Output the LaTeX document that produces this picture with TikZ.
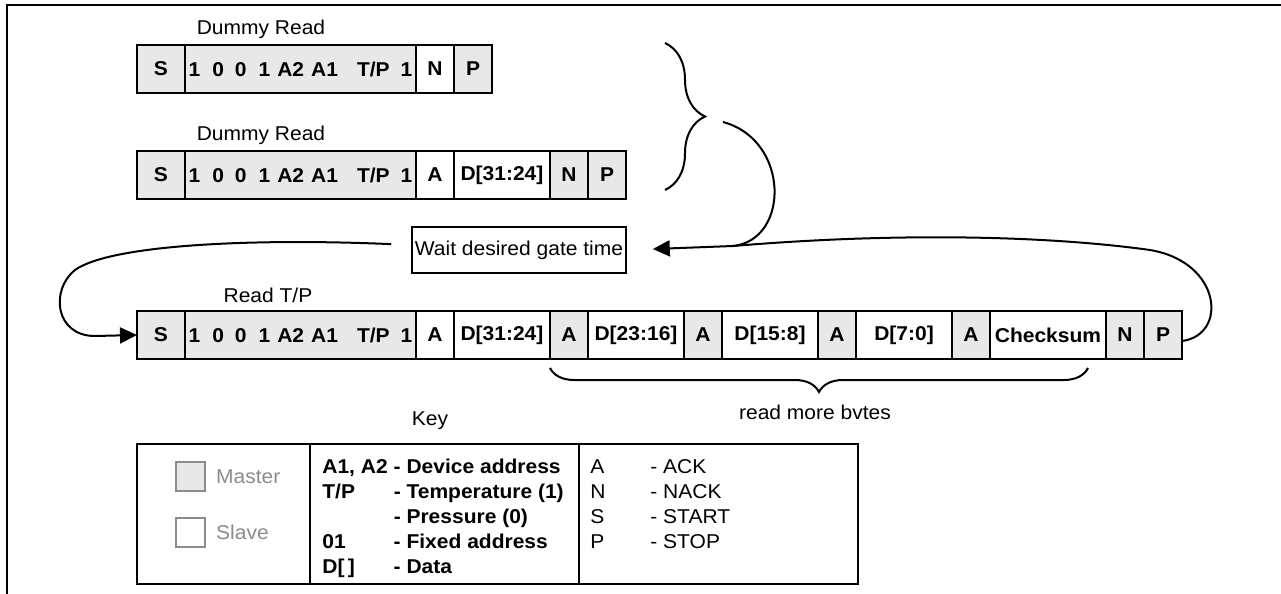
\documentclass[tikz,border=0pt]{standalone}
\usepackage{fontspec}
\setmainfont{Liberation Sans}[FakeStretch=1.05]
\usetikzlibrary{positioning,arrows.meta,decorations.pathreplacing}
\definecolor{keygray}{RGB}{140,140,140}
\definecolor{mastergray}{RGB}{232,232,232}
\newcommand{\addrbits}{1\hspace{6pt}0\hspace{5.5pt}0\hspace{6pt}1\hspace{3.5pt}A2\hspace{3.5pt}A1\hspace{9.5pt}T/P\hspace{5.5pt}1}

\begin{document}
\begin{tikzpicture}[
    x=0.5pt, y=-0.5pt,
    every node/.style={font=\fontsize{10}{12.5}\selectfont},
    cell/.style={rectangle, draw, line width=1pt, minimum height=24pt, inner sep=0pt, outer sep=0pt, anchor=west, font=\fontsize{10}{12.5}\selectfont\bfseries},
    master/.style={cell, fill=mastergray},
    slave/.style={cell, fill=white},
    sw/.style={minimum width=24pt},
    aw/.style={minimum width=115.5pt},
    kw/.style={minimum width=19pt},
    dw/.style={minimum width=48pt},
    keycell/.style={rectangle, draw, line width=1pt, minimum height=70pt, inner sep=0pt, outer sep=0pt, anchor=west},
    keysq/.style={rectangle, draw=keygray, line width=0.8pt, minimum size=14.5pt, inner sep=0pt},
    keytxt/.style={text=keygray, inner sep=0pt},
    flow/.style={line width=1pt, -{Triangle[length=8.5pt,width=8pt]}},
    brc/.style={decorate, line width=1pt, decoration={brace, amplitude=#1}},
]
\useasboundingbox (0,0) rectangle (1281,594);
\draw[line width=1pt] (7,594) -- (7,5) -- (1281,5);

\node (lbl1) at (261,29) {Dummy Read};
\node[master, sw] (s1) at (137,69) {S};
\node[master, aw, right=0pt of s1] (ad1) {\addrbits};
\node[slave, kw, right=0pt of ad1] (n1) {N};
\node[master, kw, right=0pt of n1] (p1) {P};

\node (lbl2) at (261,135) {Dummy Read};
\node[master, sw] (s2) at (137,175) {S};
\node[master, aw, right=0pt of s2] (ad2) {\addrbits};
\node[slave, kw, right=0pt of ad2] (k2) {A};
\node[slave, dw, right=0pt of k2] (d2) {D[31:24]};
\node[master, kw, right=0pt of d2] (n2) {N};
\node[master, kw, right=0pt of n2] (p2) {P};

\draw[brc=20pt] (665,43) -- (665,190);
\coordinate (dtip) at (723,122);
\coordinate (mrg) at (733,246);

\node[draw, line width=0.8pt, minimum width=107pt, minimum height=23pt, inner sep=1pt] (wait) at (519,250) {Wait desired gate time};

\node (lbl3) at (268,295) {Read T/P};
\node[master, sw] (s3) at (137,335) {S};
\node[master, aw, right=0pt of s3] (ad3) {\addrbits};
\node[slave, kw, right=0pt of ad3] (k3a) {A};
\node[slave, dw, right=0pt of k3a] (d3a) {D[31:24]};
\node[master, kw, right=0pt of d3a] (k3b) {A};
\node[slave, dw, right=0pt of k3b] (d3b) {D[23:16]};
\node[master, kw, right=0pt of d3b] (k3c) {A};
\node[slave, dw, right=0pt of k3c] (d3c) {D[15:8]};
\node[master, kw, right=0pt of d3c] (k3d) {A};
\node[slave, dw, right=0pt of k3d] (d3d) {D[7:0]};
\node[master, kw, right=0pt of d3d] (k3e) {A};
\node[slave, minimum width=58pt, right=0pt of k3e] (chk) {Checksum};
\node[master, kw, right=0pt of chk] (n3) {N};
\node[master, kw, right=0pt of n3] (p3) {P};

\draw[line width=1pt] (dtip) .. controls (790,140) and (790,240) .. (mrg);
\draw[flow, shorten >=13pt] ([yshift=-3pt]p3.east) .. controls (1228,335) and (1222,262) .. (1150,250) .. controls (1050,236) and (900,232) .. (mrg) -- (wait.east);
\draw[flow, shorten <=10pt] ([yshift=2.5pt]wait.west) .. controls (250,238) and (110,245) .. (75,270) .. controls (50,290) and (55,336) .. (95,336) -- (s3.west);

\draw[brc=12pt] (1088,368) -- (550,368);
\node (more) at (815,412) {read more bvtes};

\node (keylbl) at (430,421) {Key};
\node[keycell, minimum width=86.5pt] (kc1) at (137,514) {};
\node[keycell, minimum width=134.5pt, right=0pt of kc1] (kc2) {};
\node[keycell, minimum width=139.5pt, right=0pt of kc2] (kc3) {};

\node[keysq, fill=mastergray] (msq) at (190.5,476.5) {};
\node[keysq, fill=white] (ssq) at (190.5,532.5) {};
\node[keytxt, right=5pt of msq] (mtxt) {Master};
\node[keytxt, right=5pt of ssq] (stxt) {Slave};

\node[anchor=north west, inner sep=0pt, font=\fontsize{10}{12.5}\selectfont\bfseries] (defs) at (322,456) {\begin{tabular}{@{}l@{\hspace{3pt}}l@{}}
A1, A2 & - Device address\\
T/P & - Temperature (1)\\
 & - Pressure (0)\\
01 & - Fixed address\\
D[\,] & - Data
\end{tabular}};
\node[anchor=north west, inner sep=0pt] (abbr) at (590,456) {\begin{tabular}{@{}p{30pt}@{}l@{}}
A & - ACK\\
N & - NACK\\
S & - START\\
P & - STOP
\end{tabular}};
\end{tikzpicture}
\end{document}
